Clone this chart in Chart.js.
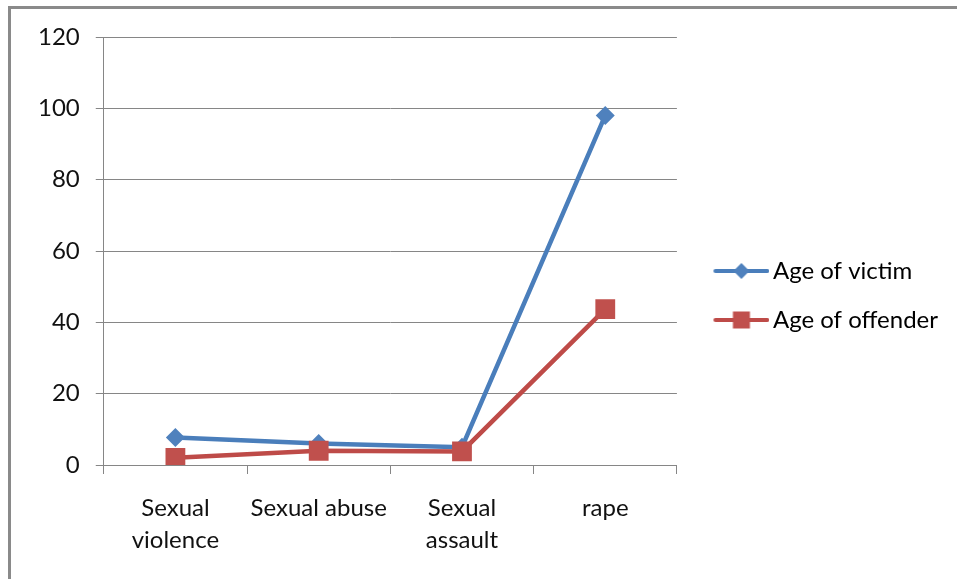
<!DOCTYPE html>
<html>
<head>
<meta charset="utf-8">
<title>Age of victim / offender</title>
<script src="https://cdn.jsdelivr.net/npm/chart.js@4.4.1/dist/chart.umd.min.js"></script>
<style>
    html, body { margin: 0; padding: 0; background: #fff; }
    #wrap { position: relative; width: 957px; height: 579px; overflow: hidden; }
    #frame {
        position: absolute; left: 8px; top: 6px; right: -10px; bottom: -10px;
        border-top: 3px solid #8a8a8a; border-left: 3px solid #8a8a8a;
    }
    #chart { position: absolute; left: 0; top: 0; }
</style>
</head>
<body>
<div id="wrap">
    <div id="frame"></div>
    <canvas id="chart" width="957" height="579"></canvas>
</div>
<script>
// Chart data
const categories = [['Sexual', 'violence'], 'Sexual abuse', ['Sexual', 'assault'], 'rape'];
const victimAges = [7.7, 6, 5, 98];
const offenderAges = [2, 4, 3.8, 43.7];
const seriesNames = ['Age of victim', 'Age of offender'];
const yMin = 0;
const yMax = 120;
const yStep = 20;

const FONT = 'Lato, "Open Sans", sans-serif';
const FONT_SIZE = 24;
const gridColor = '#868686';

// legend icon: short line with the marker, drawn in the right part of the image
function legendIcon(lineColor, fillColor, shape) {
    const c = document.createElement('canvas');
    c.width = 76;
    c.height = 20;
    const ctx = c.getContext('2d');
    ctx.strokeStyle = lineColor;
    ctx.lineWidth = 4;
    ctx.lineCap = 'round';
    ctx.beginPath();
    ctx.moveTo(22, 10);
    ctx.lineTo(74, 10);
    ctx.stroke();
    ctx.fillStyle = fillColor;
    if (shape === 'diamond') {
        ctx.beginPath();
        ctx.moveTo(48, 2);
        ctx.lineTo(56, 10);
        ctx.lineTo(48, 18);
        ctx.lineTo(40, 10);
        ctx.closePath();
        ctx.fill();
    } else {
        ctx.fillRect(39.5, 1.5, 17, 17);
    }
    return c;
}

function drawChart() {
    const icons = [
        legendIcon('#4a7ebb', '#4f81bd', 'diamond'),
        legendIcon('#be4b48', '#c0504d', 'square')
    ];

    new Chart(document.getElementById('chart').getContext('2d'), {
        type: 'line',
        data: {
            labels: categories,
            datasets: [{
                label: seriesNames[0],
                data: victimAges,
                borderColor: '#4a7ebb',
                backgroundColor: '#4f81bd',
                borderWidth: 4.5,
                pointStyle: 'rectRot',
                pointRadius: 9.5,
                pointBorderWidth: 0,
                tension: 0,
                order: 1
            }, {
                label: seriesNames[1],
                data: offenderAges,
                borderColor: '#be4b48',
                backgroundColor: '#c0504d',
                borderWidth: 4.5,
                pointStyle: 'rect',
                pointRadius: 14,
                pointBorderWidth: 0,
                tension: 0,
                order: 0
            }]
        },
        options: {
            responsive: false,
            animation: false,
            layout: {
                padding: { left: 22, top: 37, right: 9, bottom: 25 }
            },
            plugins: {
                tooltip: { enabled: false },
                legend: {
                    position: 'right',
                    maxWidth: 320,
                    labels: {
                        usePointStyle: true,
                        pointStyleWidth: 59,
                        padding: 25,
                        color: '#000',
                        font: { family: FONT, size: FONT_SIZE },
                        generateLabels: function(chart) {
                            return chart.data.datasets.map((ds, i) => ({
                                text: ds.label,
                                datasetIndex: i,
                                pointStyle: icons[i],
                                fillStyle: ds.backgroundColor,
                                strokeStyle: ds.borderColor,
                                lineWidth: 0,
                                hidden: false,
                                fontColor: '#000'
                            }));
                        }
                    }
                }
            },
            scales: {
                x: {
                    offset: true,
                    grid: {
                        offset: true,
                        drawOnChartArea: false,
                        drawTicks: true,
                        tickLength: 9,
                        color: gridColor
                    },
                    border: { color: gridColor },
                    ticks: {
                        color: '#111',
                        padding: 18,
                        maxRotation: 0,
                        autoSkip: false,
                        font: { family: FONT, size: FONT_SIZE, lineHeight: 1.35 }
                    },
                    // keep the axis box tight so the legend sits where it should
                    afterFit: function(scale) {
                        scale.height = 89;
                    }
                },
                y: {
                    min: yMin,
                    max: yMax,
                    grid: {
                        color: gridColor,
                        tickLength: 8
                    },
                    border: { color: gridColor },
                    ticks: {
                        stepSize: yStep,
                        color: '#111',
                        padding: 16,
                        font: { family: FONT, size: FONT_SIZE }
                    }
                }
            }
        }
    });
}

document.fonts.load(FONT_SIZE + 'px Lato').then(drawChart, drawChart);
</script>
</body>
</html>
